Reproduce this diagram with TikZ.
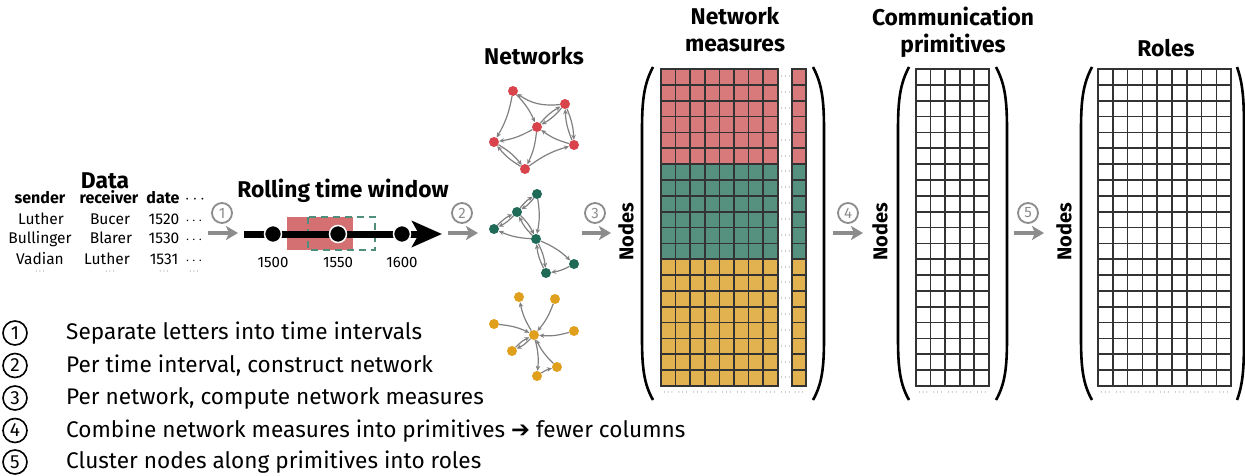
\documentclass[tikz,border=0pt]{standalone}
\usepackage{fontspec}
\setmainfont{Fira Sans}
\newfontfamily\symfont{DejaVu Sans}
\usetikzlibrary{arrows.meta,positioning}
\definecolor{nmred}{HTML}{D8797B}
\definecolor{nmgreen}{HTML}{56917F}
\definecolor{nmyellow}{HTML}{E3B250}
\definecolor{netred}{HTML}{D9444C}
\definecolor{netgreen}{HTML}{1F6B57}
\definecolor{netyellow}{HTML}{E0A01E}
\definecolor{winred}{HTML}{D47072}
\definecolor{wingreen}{HTML}{4E8E7C}
\definecolor{stepgray}{HTML}{8C8C8C}
\definecolor{edgegray}{HTML}{808080}
\tikzset
{
    title/.style    = {font=\bfseries\fontsize{22.8}{27}\selectfont, align=center, inner sep=0pt, anchor=base},
    thead/.style    = {font=\bfseries\fontsize{16}{18}\selectfont, inner sep=0pt, anchor=base},
    tcell/.style    = {font=\fontsize{15.5}{18}\selectfont, inner sep=0pt, anchor=base},
    yearlbl/.style  = {font=\fontsize{15}{18}\selectfont, inner sep=0pt},
    legtext/.style  = {font=\fontsize{22.6}{26}\selectfont, inner sep=0pt, anchor=base west},
    legnum/.style   = {circle, draw=black, line width=1.6pt, minimum size=24pt, inner sep=0pt, font=\fontsize{19}{20}\selectfont},
    stepnum/.style  = {circle, draw=stepgray, text=stepgray, line width=1.8pt, minimum size=20pt, inner sep=0pt, font=\fontsize{15}{16}\selectfont},
    steparrow/.style= {draw=stepgray, line width=3.5pt, -{Stealth[length=12pt,width=14pt,inset=3pt]}},
    timeline/.style = {draw=black, line width=7pt, -{Stealth[length=30pt,width=26pt,inset=7pt]}},
    tdot/.style     = {circle, fill=black, draw=white, line width=1.5pt, minimum size=17pt, inner sep=0pt},
    netnode/.style  = {circle, minimum size=10pt, inner sep=0pt},
    netedge/.style  = {draw=edgegray, line width=1.2pt, -{Stealth[length=5pt,width=4.5pt]}, bend left=10},
    cell/.style     = {draw=black!80, line width=1.7pt},
    rowdots/.style  = {font=\fontsize{8}{8}\selectfont, inner sep=0pt},
    paren/.style    = {draw=black, line width=2.6pt},
    nodeslbl/.style = {font=\bfseries\fontsize{20}{22}\selectfont, rotate=90, inner sep=0pt}
}
\begin{document}
\begin{tikzpicture}[x=1pt, y=-1pt]
\useasboundingbox (0,0) rectangle (1245,476);

% data
\node [title] (data) at (105,188) {Data};
\node [thead] (hsend) at (40,204) {sender};
\node [thead] (hrecv) at (109,204) {receiver};
\node [thead] (hdate) at (163,204) {date};
\node [thead] (hmore) at (195,204) {$\cdots$};
\node [tcell] (s1) at (41,224) {Luther};
\node [tcell] (r1) at (110,224) {Bucer};
\node [tcell] (d1) at (164,224) {1520};
\node [tcell] (m1) at (194,224) {$\cdots$};
\node [tcell] (s2) at (40,243) {Bullinger};
\node [tcell] (r2) at (111,243) {Blarer};
\node [tcell] (d2) at (164,243) {1530};
\node [tcell] (m2) at (194,243) {$\cdots$};
\node [tcell] (s3) at (40,264) {Vadian};
\node [tcell] (r3) at (107,264) {Luther};
\node [tcell] (d3) at (164,264) {1531};
\node [tcell] (m3) at (194,264) {$\cdots$};
\foreach \x/\n in {40/a,110/b,164/c,194/d}
    \node [rowdots] (e\n) at (\x,272) {$\cdots$};

% step 1
\coordinate (a1s) at (208,233);
\coordinate (a1e) at (238,233);
\draw [steparrow] (a1s) -- (a1e);
\node [stepnum] (n1) at (222,213) {1};

% rolling time window
\node [title] (rtw) at (343,197) {Rolling time window};
\fill [winred] (287,217) rectangle (353,250);
\draw [wingreen, line width=2.4pt, dash pattern=on 7pt off 5pt] (308,217) rectangle (375,250);
\coordinate (tstart) at (244,234);
\coordinate (tend) at (442,234);
\draw [timeline] (tstart) -- (tend);
\node [tdot] (t1500) at (273,234) {};
\node [tdot] (t1550) at (338,234) {};
\node [tdot] (t1600) at (402,234) {};
\node [yearlbl, below=14pt of t1500] (y1500) {1500};
\node [yearlbl, below=14pt of t1550] (y1550) {1550};
\node [yearlbl, below=14pt of t1600] (y1600) {1600};

% step 2
\coordinate (a2s) at (448,233);
\coordinate (a2e) at (478,233);
\draw [steparrow] (a2s) -- (a2e);
\node [stepnum] (n2) at (462,213) {2};

% networks
\node [title] (nets) at (534,65) {Networks};
\node [netnode, fill=netred] (r1) at (513,91) {};
\node [netnode, fill=netred] (r2) at (565,104) {};
\node [netnode, fill=netred] (r3) at (537,127) {};
\node [netnode, fill=netred] (r4) at (494,142) {};
\node [netnode, fill=netred] (r5) at (574,145) {};
\node [netnode, fill=netred] (r6) at (525,169) {};
\draw [netedge] (r1) to (r3);
\draw [netedge] (r1) to (r4);
\draw [netedge, bend left=20] (r2) to (r1);
\draw [netedge] (r2) to (r3);
\draw [netedge] (r3) to (r2);
\draw [netedge] (r2) to (r5);
\draw [netedge] (r5) to (r2);
\draw [netedge] (r5) to (r3);
\draw [netedge] (r3) to (r4);
\draw [netedge] (r3) to (r6);
\draw [netedge] (r4) to (r6);
\draw [netedge] (r6) to (r4);
\draw [netedge] (r6) to (r5);

\node [netnode, fill=netgreen] (g1) at (537,194) {};
\node [netnode, fill=netgreen] (g2) at (517,212) {};
\node [netnode, fill=netgreen] (g3) at (494,229) {};
\node [netnode, fill=netgreen] (g4) at (536,239) {};
\node [netnode, fill=netgreen] (g5) at (574,264) {};
\node [netnode, fill=netgreen] (g6) at (546,273) {};
\draw [netedge] (g1) to (g2);
\draw [netedge] (g2) to (g1);
\draw [netedge] (g2) to (g3);
\draw [netedge] (g3) to (g2);
\draw [netedge] (g1) to (g4);
\draw [netedge] (g2) to (g4);
\draw [netedge] (g4) to (g2);
\draw [netedge] (g4) to (g3);
\draw [netedge] (g4) to (g5);
\draw [netedge] (g4) to (g6);
\draw [netedge] (g6) to (g4);
\draw [netedge] (g5) to (g6);

\node [netnode, fill=netyellow] (y1) at (519,297) {};
\node [netnode, fill=netyellow] (y2) at (555,299) {};
\node [netnode, fill=netyellow] (y3) at (494,324) {};
\node [netnode, fill=netyellow] (y4) at (574,331) {};
\node [netnode, fill=netyellow] (y5) at (534,335) {};
\node [netnode, fill=netyellow] (y6) at (512,351) {};
\node [netnode, fill=netyellow] (y7) at (557,367) {};
\node [netnode, fill=netyellow] (y8) at (537,376) {};
\draw [netedge] (y5) to (y1);
\draw [netedge] (y2) to (y5);
\draw [netedge] (y3) to (y5);
\draw [netedge] (y4) to (y5);
\draw [netedge] (y5) to (y6);
\draw [netedge] (y6) to (y5);
\draw [netedge] (y7) to (y5);
\draw [netedge] (y5) to (y8);
\draw [netedge] (y8) to (y7);

% step 3
\coordinate (a3s) at (582,233);
\coordinate (a3e) at (611,233);
\draw [steparrow] (a3s) -- (a3e);
\node [stepnum] (n3) at (595,213) {3};

% network measures
\node [title] (nmt) at (735,52) {Network\\measures};
\node [nodeslbl] (nmnodes) at (626,232) {Nodes};
\foreach \r in {0,...,19}{
    \ifnum\r<6 \def\cc{nmred}\else\ifnum\r<12 \def\cc{nmgreen}\else\def\cc{nmyellow}\fi\fi
    \foreach \c in {0,...,7}
        \draw [cell, fill=\cc] (661+\c*14.6,69+\r*15.85) rectangle ++(14.6,15.85);
    \draw [cell, fill=\cc] (792,69+\r*15.85) rectangle ++(14,15.85);
    \node [rowdots] at (785.5,77+\r*15.85) {$\cdots$};
}
\foreach \c in {0,...,7}
    \node [rowdots] at (668.3+\c*14.6,393) {$\cdots$};
\node [rowdots] at (785.5,393) {$\cdots$};
\node [rowdots] at (799,393) {$\cdots$};
\draw [paren] (653,67) .. controls (644,84) and (642,100) .. (642,130) -- (642,338) .. controls (642,368) and (644,384) .. (653,400);
\draw [paren] (813,67) .. controls (822,84) and (824,100) .. (824,130) -- (824,338) .. controls (824,368) and (822,384) .. (813,400);

% step 4
\coordinate (a4s) at (833,233);
\coordinate (a4e) at (863,233);
\draw [steparrow] (a4s) -- (a4e);
\node [stepnum] (n4) at (848,213) {4};

% communication primitives
\node [title] (cpt) at (953,53) {Communication\\primitives};
\node [nodeslbl] (cpnodes) at (880,232) {Nodes};
\foreach \r in {0,...,19}
    \foreach \c in {0,...,4}
        \draw [cell, fill=white] (916+\c*14.55,69+\r*15.85) rectangle ++(14.55,15.85);
\foreach \c in {0,...,4}
    \node [rowdots] at (923.3+\c*14.55,393) {$\cdots$};
\draw [paren] (909,67) .. controls (900,84) and (898,100) .. (898,130) -- (898,338) .. controls (898,368) and (900,384) .. (909,400);
\draw [paren] (996,67) .. controls (1005,84) and (1007,100) .. (1007,130) -- (1007,338) .. controls (1007,368) and (1005,384) .. (996,400);

% step 5
\coordinate (a5s) at (1014,233);
\coordinate (a5e) at (1044,233);
\draw [steparrow] (a5s) -- (a5e);
\node [stepnum] (n5) at (1028,213) {5};

% roles
\node [title] (rlt) at (1166,57) {Roles};
\node [nodeslbl] (rlnodes) at (1064,232) {Nodes};
\foreach \r in {0,...,19}
    \foreach \c in {0,...,8}
        \draw [cell, fill=white] (1098+\c*14.8,69+\r*15.85) rectangle ++(14.8,15.85);
\foreach \c in {0,...,8}
    \node [rowdots] at (1105.4+\c*14.8,393) {$\cdots$};
\draw [paren] (1092,67) .. controls (1083,84) and (1081,100) .. (1081,130) -- (1081,338) .. controls (1081,368) and (1083,384) .. (1092,400);
\draw [paren] (1237,67) .. controls (1243,84) and (1244,100) .. (1244,130) -- (1244,338) .. controls (1244,368) and (1243,384) .. (1237,400);

% legend
\foreach \i/\y/\t in {1/333/Separate letters into time intervals,
                      2/365.5/{Per time interval, construct network},
                      3/398/{Per network, compute network measures},
                      4/430.5/Combine network measures into primitives {\symfont ➔} fewer columns,
                      5/462/Cluster nodes along primitives into roles}{
    \node [legnum] (leg\i) at (15,\y) {\i};
    \node [legtext] (legt\i) at (66,\y+6.5) {\t};
}
\end{tikzpicture}
\end{document}
